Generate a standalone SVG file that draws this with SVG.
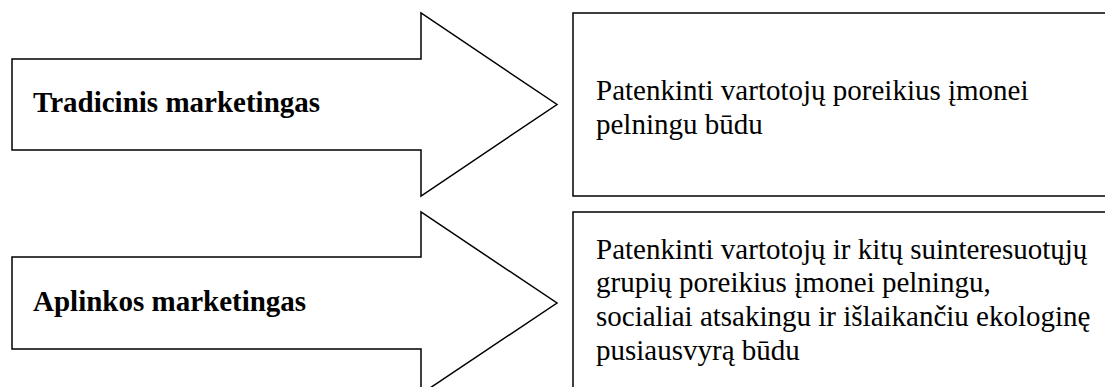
<svg xmlns="http://www.w3.org/2000/svg" width="1105" height="387" viewBox="0 0 1105 387">
  <style>
    .shape { fill: #ffffff; stroke: #000000; stroke-width: 1.5; stroke-linejoin: miter; }
    .lbl { font-family: "Liberation Serif", "Times New Roman", serif; font-size: 29px; font-weight: bold; fill: #000000; }
    .txt { font-family: "Liberation Serif", "Times New Roman", serif; font-size: 29px; fill: #000000; }
  </style>
  <rect x="0" y="0" width="1105" height="387" fill="#ffffff"/>
  <g id="arrow-tradicinis">
    <polygon class="shape" points="12,59 421,59 421,13 557,104.5 421,196 421,150 12,150"/>
    <text class="lbl" x="33" y="112">Tradicinis marketingas</text>
  </g>
  <g id="box-tradicinis">
    <rect class="shape" x="573" y="13" width="545" height="183"/>
    <text class="txt" x="596" y="100">Patenkinti vartotojų poreikius įmonei</text>
    <text class="txt" x="596" y="134">pelningu būdu</text>
  </g>
  <g id="arrow-aplinkos">
    <polygon class="shape" points="12,257 421,257 421,212 557,303 421,394 421,349 12,349"/>
    <text class="lbl" x="33" y="311">Aplinkos marketingas</text>
  </g>
  <g id="box-aplinkos">
    <rect class="shape" x="573" y="212" width="545" height="190"/>
    <text class="txt" x="596" y="259">Patenkinti vartotojų ir kitų suinteresuotųjų</text>
    <text class="txt" x="596" y="292">grupių poreikius įmonei pelningu,</text>
    <text class="txt" x="596" y="326">socialiai atsakingu ir išlaikančiu ekologinę</text>
    <text class="txt" x="596" y="360">pusiausvyrą būdu</text>
  </g>
  <g id="connectors"></g>
</svg>
